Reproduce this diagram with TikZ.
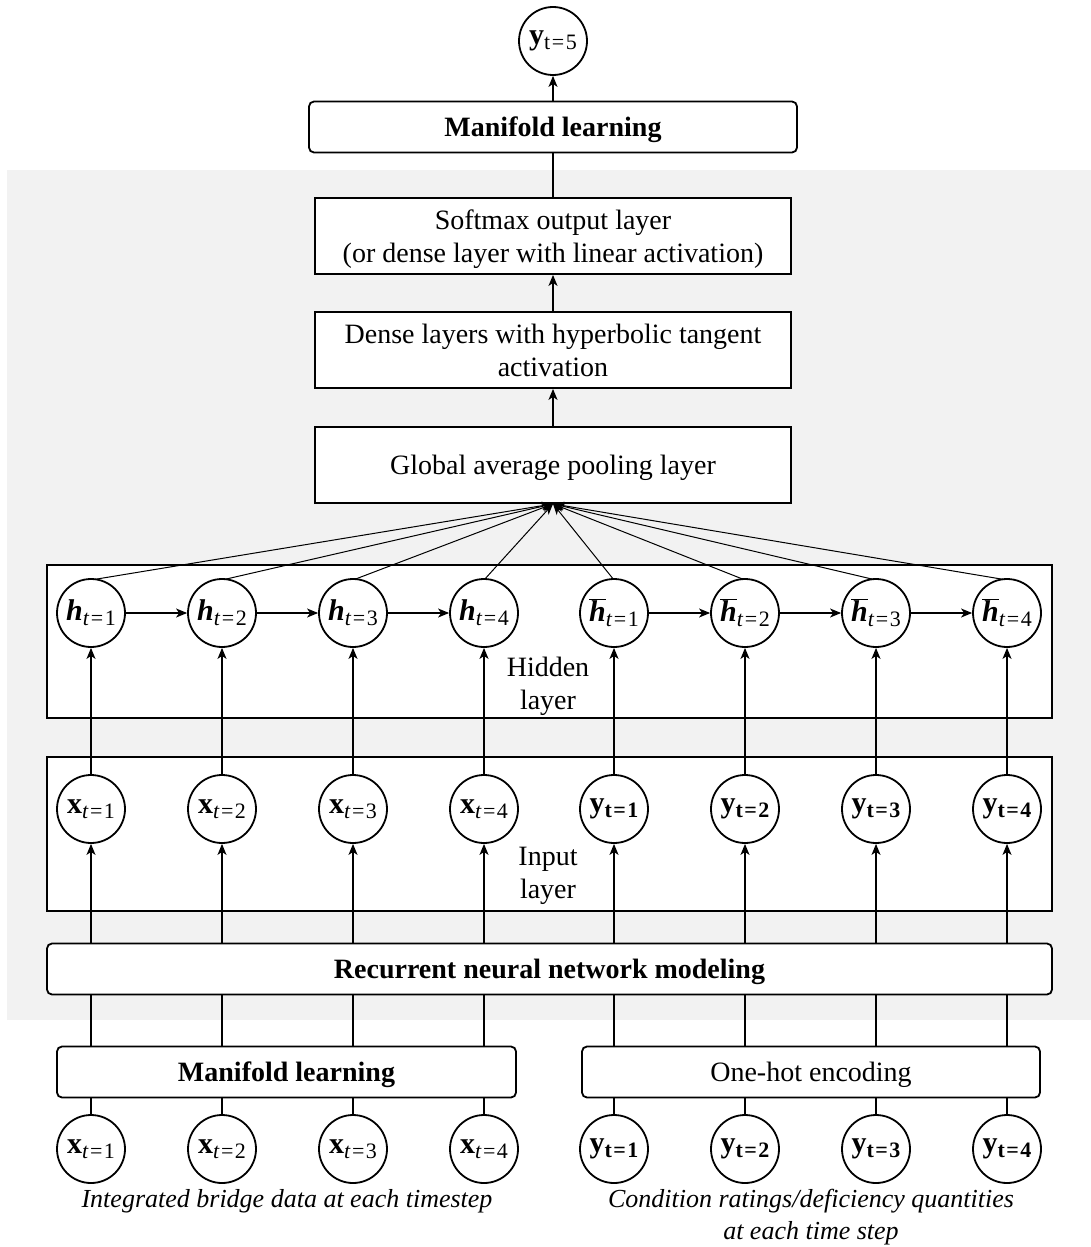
\documentclass[tikz,border=0pt]{standalone}
\usepackage{fontspec}
\setmainfont{Liberation Serif}
\usetikzlibrary{arrows.meta}
% lowered, smaller subscript used inside the unit circles
\newcommand\unitsub[1]{\raisebox{-5pt}{\fontsize{22}{22}\selectfont #1}}
\newcommand\eqsign{\kern1.5pt=\kern1.5pt}
\newcommand\xunit[1]{{\bfseries x}\unitsub{\textit{t}\eqsign#1}}
\newcommand\yunit[1]{{\bfseries y}\unitsub{\bfseries t\eqsign#1}}
\newcommand\hunit[1]{{\bfseries\itshape h}\unitsub{\textit{t}\eqsign#1}}
\newcommand\hbunit[1]{$\overline{\hbox{\bfseries\itshape h}}$\unitsub{\textit{t}\eqsign#1}}
\begin{document}
\begin{tikzpicture}[x=1pt,y=-1pt,
  box/.style={draw,line width=1.8pt,fill=white,align=center,inner sep=0pt,
    text depth=0pt,font=\fontsize{28}{33}\selectfont},
  rbox/.style={box,rounded corners=5pt},
  unit/.style={draw,circle,line width=1.8pt,fill=white,minimum size=68pt,
    inner sep=0pt,font=\fontsize{30}{30}\selectfont},
  link/.style={line width=1.2pt},
  arr/.style={link,-{Stealth[length=11pt,width=9pt,inset=3pt]}},
  fan/.style={line width=1pt,-{Stealth[length=11pt,width=8pt,inset=3pt]}},
  caption/.style={align=center,font=\fontsize{26}{32}\selectfont\itshape},
  lbl/.style={align=center,font=\fontsize{28}{33}\selectfont},
]
\useasboundingbox (0,0) rectangle (1091,1247);

% shaded network region
\fill[black!5] (7,170) rectangle (1091,1020);

% output stack
\node[unit] (y5) at (553,41) {{\bfseries y}\unitsub{t\eqsign5}};
\node[rbox,minimum width=488pt,minimum height=51pt] (mtop) at (553,127) {\bfseries Manifold learning};
\node[box,minimum width=476pt,minimum height=76pt] (soft) at (553,236)
  {Softmax output layer\\(or dense layer with linear activation)};
\node[box,minimum width=476pt,minimum height=76pt] (dense) at (553,350)
  {Dense layers with hyperbolic tangent\\activation};
\node[box,minimum width=476pt,minimum height=76pt] (pool) at (553,465)
  {Global average pooling layer};

% layer frames
\node[box,minimum width=1005pt,minimum height=153pt] (hidbox) at (549.5,641.5) {};
\node[box,minimum width=1005pt,minimum height=154pt] (inbox) at (549.5,834) {};
\node[rbox,minimum width=1005pt,minimum height=51pt] (rnn) at (549.5,969)
  {\bfseries Recurrent neural network modeling};
\node[rbox,minimum width=459pt,minimum height=51pt] (mbot) at (286.5,1072)
  {\bfseries Manifold learning};
\node[rbox,minimum width=458pt,minimum height=51pt] (onehot) at (811,1072)
  {One-hot encoding};

\node[lbl] (hidlbl) at (548,686) {Hidden\\layer};
\node[lbl] (inlbl) at (548,876) {Input\\layer};

% unit centres
\foreach \i in {1,...,4} {
  \coordinate (ch\i) at ({91+131*(\i-1)},613);
  \coordinate (cg\i) at ({614+131*(\i-1)},613);
}

% hidden units feed the pooling layer (drawn first, units sit on top)
\foreach \i in {1,...,4} {
  \draw[fan] ([yshift=33pt]ch\i) -- (pool.south);
  \draw[fan] ([yshift=33pt]cg\i) -- (pool.south);
}

% units
\foreach \i in {1,...,4} {
  \node[unit] (h\i) at (ch\i) {\hunit{\i}};
  \node[unit] (g\i) at (cg\i) {\hbunit{\i}};
  \node[unit] (xi\i) at ({91+131*(\i-1)},809) {\xunit{\i}};
  \node[unit] (yi\i) at ({614+131*(\i-1)},809) {\yunit{\i}};
  \node[unit] (xb\i) at ({91+131*(\i-1)},1149) {\xunit{\i}};
  \node[unit] (yb\i) at ({614+131*(\i-1)},1149) {\yunit{\i}};
}

\node[caption] (capx) at (287,1201) {Integrated bridge data at each timestep};
\node[caption] (capy) at (811,1217) {Condition ratings/deficiency quantities\\at each time step};

% output stack connectors
\draw[arr] (mtop.north) -- (y5);
\draw[link] (soft.north) -- (mtop.south);
\draw[arr] (dense.north) -- (soft.south);
\draw[arr] (pool.north) -- (dense.south);

% recurrent links
\foreach \a/\b in {1/2,2/3,3/4} {
  \draw[arr] (h\a) -- (h\b);
  \draw[arr] (g\a) -- (g\b);
}

% vertical flow
\foreach \i in {1,...,4} {
  \draw[arr] (xi\i) -- (h\i);
  \draw[arr] (yi\i) -- (g\i);
  \draw[arr] (rnn.north -| xi\i) -- (xi\i);
  \draw[arr] (rnn.north -| yi\i) -- (yi\i);
  \draw[link] (xb\i) -- (mbot.south -| xb\i);
  \draw[link] (yb\i) -- (onehot.south -| yb\i);
  \draw[link] (mbot.north -| xb\i) -- (rnn.south -| xb\i);
  \draw[link] (onehot.north -| yb\i) -- (rnn.south -| yb\i);
}
\end{tikzpicture}
\end{document}
